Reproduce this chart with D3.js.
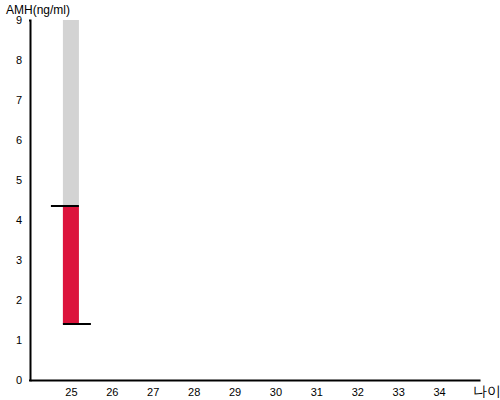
<!DOCTYPE html>
<html>
<head>
<meta charset="utf-8">
<script src="https://cdn.jsdelivr.net/npm/d3@7"></script>
<style>
  body { margin: 0; background: #fff; }
  text { font-family: "Liberation Sans", Arial, sans-serif; }
  .axis text { font-size: 11px; fill: #000; }
  .axis path { stroke: #000; stroke-width: 2px; }
</style>
</head>
<body>
<div id="chart"></div>
<script>
// data
var ages = [25, 26, 27, 28, 29, 30, 31, 32, 33, 34];
var yTicks = [0, 1, 2, 3, 4, 5, 6, 7, 8, 9];
var amhAge = [25];
var amhLow = [1.4];
var amhHigh = [4.35];
var rangeMax = 9;

var width = 500, height = 400;
var margin = { top: 20, right: 20, bottom: 20, left: 30 };

var svg = d3.select('#chart').append('svg')
  .attr('width', width)
  .attr('height', height);

var x = d3.scaleLinear().domain([24, 35]).range([margin.left, width - margin.right]);
var y = d3.scaleLinear().domain([0, 9]).range([height - margin.bottom, margin.top]);

var barW = 16, capExt = 12;

// background range bar (above the low value)
svg.append('g').selectAll('rect.bg')
  .data(amhAge)
  .enter().append('rect')
  .attr('class', 'bg')
  .attr('x', function(d) { return x(d) - barW / 2; })
  .attr('width', barW)
  .attr('y', y(rangeMax))
  .attr('height', function(d, i) { return y(amhLow[i]) - y(rangeMax); })
  .attr('fill', '#d3d3d3');

// value bar
svg.append('g').selectAll('rect.val')
  .data(amhAge)
  .enter().append('rect')
  .attr('class', 'val')
  .attr('x', function(d) { return x(d) - barW / 2; })
  .attr('width', barW)
  .attr('y', function(d, i) { return y(amhHigh[i]); })
  .attr('height', function(d, i) { return y(amhLow[i]) - y(amhHigh[i]); })
  .attr('fill', '#dc143c');

// caps
amhAge.forEach(function(d, i) {
  svg.append('line')
    .attr('x1', x(d) - barW / 2 - capExt).attr('x2', x(d) + barW / 2)
    .attr('y1', y(amhHigh[i])).attr('y2', y(amhHigh[i]))
    .attr('stroke', '#000').attr('stroke-width', 2);
  svg.append('line')
    .attr('x1', x(d) - barW / 2).attr('x2', x(d) + barW / 2 + capExt)
    .attr('y1', y(amhLow[i])).attr('y2', y(amhLow[i]))
    .attr('stroke', '#000').attr('stroke-width', 2);
});

// axes
svg.append('g')
  .attr('class', 'axis')
  .attr('transform', 'translate(0,' + y(0) + ')')
  .call(d3.axisBottom(x).tickValues(ages).tickSize(0).tickPadding(8));

svg.append('g')
  .attr('class', 'axis')
  .attr('transform', 'translate(' + margin.left + ',0)')
  .call(d3.axisLeft(y).tickValues(yTicks).tickSizeInner(0).tickSizeOuter(1).tickPadding(8));

svg.append('text')
  .attr('x', 6).attr('y', 14)
  .attr('font-size', 12)
  .text('AMH(ng/ml)');

svg.append('text')
  .attr('x', 473).attr('y', 396)
  .attr('font-size', 14)
  .text('나이');
</script>
</body>
</html>
